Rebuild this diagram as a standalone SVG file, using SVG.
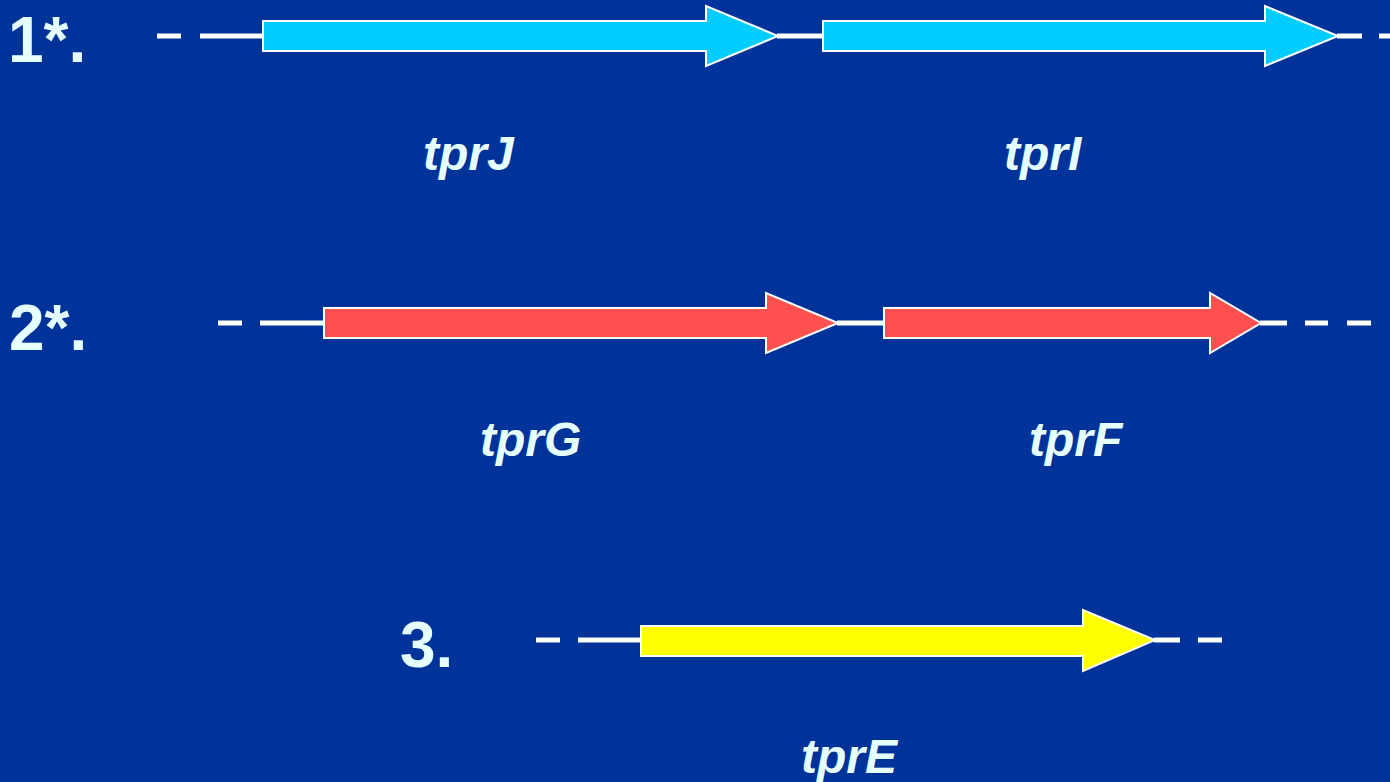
<svg xmlns="http://www.w3.org/2000/svg" width="1390" height="782" viewBox="0 0 1390 782">
<style>
.bg{fill:#003399}
.ln{stroke:#ffffff;stroke-width:5;fill:none}
.arr{stroke:#ffffff;stroke-width:2;stroke-linejoin:miter}
.cy{fill:#00ccff}
.rd{fill:#ff5050}
.yl{fill:#ffff00}
.num{font-family:"Liberation Sans",Arial,sans-serif;font-weight:bold;font-size:64px;fill:#e6ffff}
.gene{font-family:"Liberation Sans",Arial,sans-serif;font-weight:bold;font-style:italic;font-size:48px;fill:#e6ffff}
</style>
<rect class="bg" x="0" y="0" width="1390" height="782"/>
<g id="connectors">
<line class="ln" x1="157" y1="36" x2="181" y2="36"/>
<line class="ln" x1="200" y1="36" x2="264" y2="36"/>
<line class="ln" x1="777" y1="36" x2="824" y2="36"/>
<line class="ln" x1="1337" y1="36" x2="1362" y2="36"/>
<line class="ln" x1="1379" y1="36" x2="1390" y2="36"/>
<line class="ln" x1="218" y1="323" x2="242" y2="323"/>
<line class="ln" x1="260" y1="323" x2="325" y2="323"/>
<line class="ln" x1="837" y1="323" x2="885" y2="323"/>
<line class="ln" x1="1260" y1="323" x2="1287" y2="323"/>
<line class="ln" x1="1305" y1="323" x2="1328" y2="323"/>
<line class="ln" x1="1347" y1="323" x2="1371" y2="323"/>
<line class="ln" x1="536" y1="640" x2="560" y2="640"/>
<line class="ln" x1="578" y1="640" x2="642" y2="640"/>
<line class="ln" x1="1154" y1="640" x2="1180" y2="640"/>
<line class="ln" x1="1198" y1="640" x2="1222" y2="640"/>
</g>
<g id="label1"><text class="num" x="8" y="62">1*.</text></g>
<g id="label2"><text class="num" x="9" y="350">2*.</text></g>
<g id="label3"><text class="num" x="400" y="667">3.</text></g>
<g id="tprJ">
<polygon class="arr cy" points="263,21 706,21 706,6 778,36 706,66 706,51 263,51"/>
<text class="gene" x="423" y="170">tprJ</text>
</g>
<g id="tprI">
<polygon class="arr cy" points="823,21 1265,21 1265,6 1338,36 1265,66 1265,51 823,51"/>
<text class="gene" x="1004" y="170">tprI</text>
</g>
<g id="tprG">
<polygon class="arr rd" points="324,308 766,308 766,293 838,323 766,353 766,338 324,338"/>
<text class="gene" x="480" y="456">tprG</text>
</g>
<g id="tprF">
<polygon class="arr rd" points="884,308 1210,308 1210,293 1261,323 1210,353 1210,338 884,338"/>
<text class="gene" x="1029" y="456">tprF</text>
</g>
<g id="tprE">
<polygon class="arr yl" points="641,626 1083,626 1083,610 1155,640 1083,671 1083,656 641,656"/>
<text class="gene" x="801" y="773">tprE</text>
</g>
</svg>
